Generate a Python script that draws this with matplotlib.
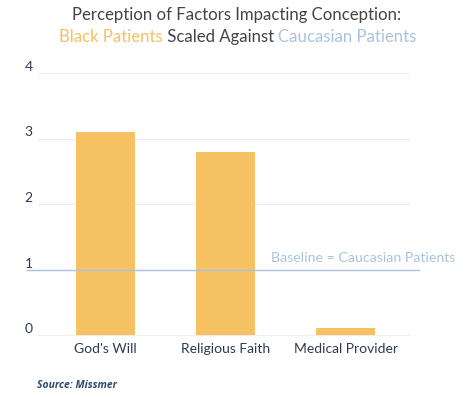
import matplotlib
matplotlib.use("Agg")
import matplotlib.pyplot as plt

categories = ["God's Will", "Religious Faith", "Medical Provider"]
values = [3.10, 2.80, 0.10]
yticks = [0, 1, 2, 3, 4]
baseline = 1

BAR = "#F5C162"
BLUE = "#A9C3DE"
DARK = "#444444"
TICK = "#2E3A4E"

fig = plt.figure(figsize=(4.74, 3.97), dpi=100)
W, H = 474, 397
ax = fig.add_axes([45.5 / W, 1 - 335 / H, 360 / W, (335 - 73) / H])

ax.bar(range(len(categories)), values, width=0.49, color=BAR, zorder=2)
ax.set_xlim(-0.5, 2.5)
ax.set_ylim(0, 4)
ax.set_yticks(yticks)
ax.set_yticklabels([str(t) for t in yticks], fontsize=10, color=TICK, family="Lato")
ax.set_xticks(range(len(categories)))
ax.set_xticklabels(categories, fontsize=10, color=TICK, family="Lato")
ax.tick_params(length=0, pad=6)
for lbl in ax.get_yticklabels():
    lbl.set_verticalalignment("bottom")
    lbl.set_horizontalalignment("left")
    lbl.set_x(-0.035)
for s in ax.spines.values():
    s.set_visible(False)
for t in yticks:
    ax.axhline(t, color="#F2ECEA", lw=0.8, zorder=1, xmin=-0.02, xmax=1.01, clip_on=False)

# baseline line
ax.plot([-0.654, 2.61], [baseline, baseline], color=BLUE, lw=1.0, zorder=3, clip_on=False)
ax.text(1.38, baseline + 0.08, "Baseline = Caucasian Patients", color=BLUE,
        fontsize=10.2, family="Lato", ha="left", va="bottom")

# title
TFS = 12.1
fig.text(0.5, 1 - 15 / H, "Perception of Factors Impacting Conception:", ha="center",
         va="center", fontsize=TFS, color=DARK, family="Lato")
parts = [("Black Patients", BAR), (" Scaled Against ", DARK), ("Caucasian Patients", BLUE)]
fig.canvas.draw()
r = fig.canvas.get_renderer()
texts = []
for s, c in parts:
    texts.append(fig.text(0, 1 - 37 / H, s, ha="left", va="center", fontsize=TFS,
                          color=c, family="Lato"))
widths = [t.get_window_extent(r).width for t in texts]
x = (W - sum(widths)) / 2 + 1
for t, w in zip(texts, widths):
    t.set_x(x / W)
    x += w

fig.text(37 / W, 1 - 386 / H, "Source: Missmer", fontsize=7.5, fontweight="bold",
         style="italic", color="#2F4A6B", family="Open Sans", va="center")

fig.savefig("out.png", dpi=100)
